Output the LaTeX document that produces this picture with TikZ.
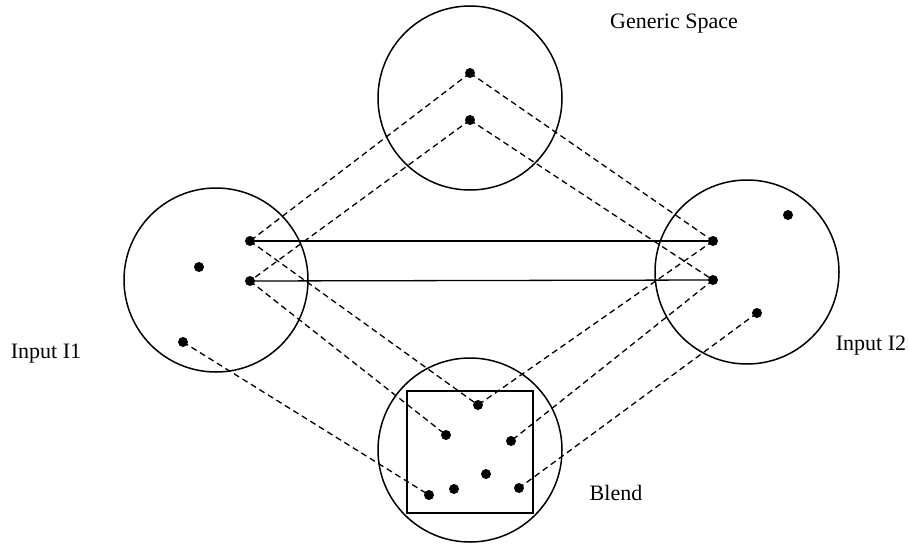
\documentclass[tikz,border=0pt]{standalone}
\usepackage{fontspec}
\setmainfont{Liberation Serif}
\begin{document}
\begin{tikzpicture}[x=1pt,y=-1pt,
  space/.style={draw,circle,line width=1.5pt,minimum size=184pt,inner sep=0pt},
  dot/.style={fill,circle,inner sep=0pt,minimum size=10pt},
  map/.style={dashed,dash pattern=on 6pt off 4pt,line width=1.3pt},
  link/.style={line width=1.3pt},
  lbl/.style={font=\fontsize{22}{25}\selectfont}]
\useasboundingbox (0,0) rectangle (909,543);
% spaces
\node[space] (gen) at (470,98) {};
\node[space] (in1) at (216,280) {};
\node[space] (in2) at (747,272) {};
\node[space] (bl) at (470,450) {};
\node[draw,line width=1.6pt,minimum width=126pt,minimum height=122pt,inner sep=0pt] (sq) at (470,452) {};
% labels
\node[lbl] (tgen) at (674,24) {Generic Space};
\node[lbl] (tin1) at (46,354) {Input I1};
\node[lbl] (tin2) at (871,346) {Input I2};
\node[lbl] (tbl) at (616,493) {Blend};
% points
\coordinate (g1) at (470,73);
\coordinate (g2) at (470,120);
\coordinate (a1) at (250,241);
\coordinate (a2) at (250,281);
\coordinate (a3) at (199,267);
\coordinate (a4) at (183,342);
\coordinate (b1) at (713,241);
\coordinate (b2) at (713,280);
\coordinate (b3) at (788,215);
\coordinate (b4) at (757,313);
\coordinate (c1) at (478,405);
\coordinate (c2) at (446,435);
\coordinate (c3) at (511,441);
\coordinate (c4) at (486,474);
\coordinate (c5) at (454,489);
\coordinate (c6) at (429,495);
\coordinate (c7) at (519,488);
% connectors
\draw[link] (a1) -- (b1);
\draw[link] (a2) -- (b2);
\draw[map] (g1) -- (a1);
\draw[map] (g2) -- (a2);
\draw[map] (g1) -- (b1);
\draw[map] (g2) -- (b2);
\draw[map] (a1) -- (c1);
\draw[map] (a2) -- (c2);
\draw[map] (a4) -- (c6);
\draw[map] (b1) -- (c1);
\draw[map] (b2) -- (c3);
\draw[map] (b4) -- (c7);
% dots
\foreach \p in {g1,g2,a1,a2,a3,a4,b1,b2,b3,b4,c1,c2,c3,c4,c5,c6,c7}
  \node[dot] (d\p) at (\p) {};
\end{tikzpicture}
\end{document}
